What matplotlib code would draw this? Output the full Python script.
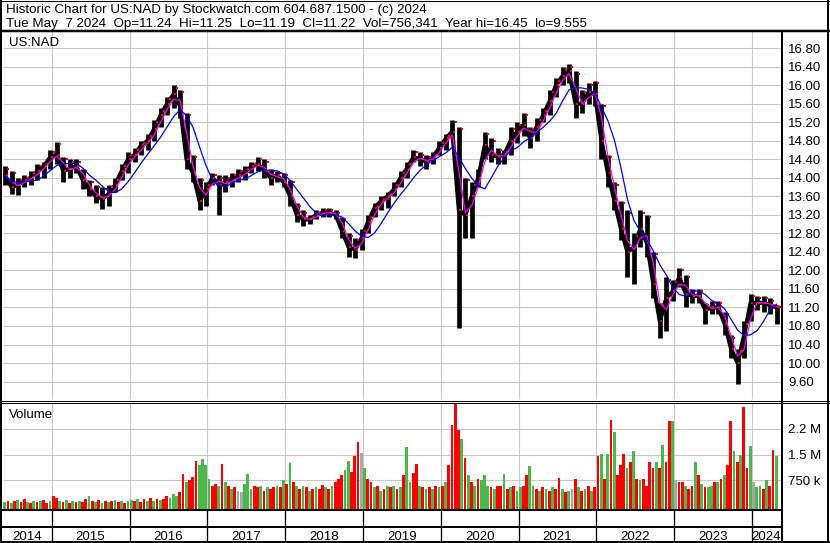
import matplotlib
matplotlib.use("Agg")
import matplotlib.pyplot as plt
import matplotlib.transforms as mtrans
from matplotlib.lines import Line2D
import numpy as np
import pandas as pd

plt.rcParams['font.family'] = ['Liberation Sans', 'DejaVu Sans']

W, H = 830, 543

# monthly price samples (US:NAD), first one mid-May 2014
t_first = 2014.40
close = [14.05, 13.8, 13.85, 13.95, 14.0, 14.15, 14.25, 14.45, 14.5, 14.15,
         14.2, 14.25, 13.95, 13.75, 13.6, 13.55, 13.65, 13.85, 14.15, 14.4,
         14.5, 14.7, 14.8, 15.05, 15.35, 15.6, 15.8, 15.55, 14.4, 14.1,
         13.5, 13.75, 14.0, 13.85, 13.9, 13.95, 14.05, 14.1, 14.25, 14.3,
         14.15, 14.0, 14.05, 13.9, 13.6, 13.2, 13.1, 13.1, 13.2, 13.25,
         13.25, 13.2, 12.85, 12.5, 12.45, 12.7, 13.05, 13.35, 13.5, 13.6,
         13.75, 14.0, 14.2, 14.45, 14.4, 14.35, 14.45, 14.65, 14.85, 15.0,
         13.3, 13.2, 13.6, 14.0, 14.7, 14.5, 14.45, 14.5, 14.8, 15.0,
         15.15, 14.85, 15.1, 15.35, 15.65, 16.0, 16.2, 16.3, 15.6, 15.6,
         15.85, 15.8, 14.8, 14.1, 13.5, 12.9, 12.4, 12.5, 12.9, 12.6,
         11.7, 10.9, 11.4, 11.55, 11.85, 11.5, 11.45, 11.45, 11.15, 11.2,
         11.2, 10.85, 10.3, 10.0, 10.6, 11.3, 11.3, 11.3, 11.25, 11.2]
lo = [13.85, 13.65, 13.62, 13.8, 13.85, 13.95, 14.0, 14.2, 14.3, 13.9,
      14.0, 14.1, 13.75, 13.6, 13.45, 13.33, 13.4, 13.7, 13.95, 14.1,
      14.35, 14.5, 14.6, 14.8, 15.1, 15.35, 15.5, 15.3, 14.2, 13.9,
      13.3, 13.4, 13.85, 13.2, 13.7, 13.8, 13.9, 13.95, 14.1, 14.15,
      14.0, 13.85, 13.9, 13.8, 13.4, 13.05, 12.95, 13.0, 13.1, 13.15,
      13.15, 13.1, 12.7, 12.3, 12.27, 12.45, 12.8, 13.15, 13.3, 13.35,
      13.6, 13.8, 14.0, 14.35, 14.25, 14.2, 14.3, 14.5, 14.6, 14.85,
      10.75, 12.7, 12.7, 13.8, 14.4, 14.35, 14.3, 14.3, 14.5, 14.75,
      14.9, 14.65, 14.8, 15.2, 15.35, 15.75, 16.0, 16.05, 15.3, 15.4,
      15.6, 15.55, 14.4, 13.8, 13.3, 12.65, 11.85, 11.7, 12.5, 12.3,
      11.4, 10.55, 10.7, 11.35, 11.65, 11.2, 11.3, 11.3, 10.85, 11.05,
      11.05, 10.6, 10.1, 9.555, 10.1, 10.9, 11.15, 11.1, 11.05, 10.85]
hi = [14.25, 14.15, 14.0, 14.05, 14.15, 14.3, 14.35, 14.6, 14.78, 14.45,
      14.4, 14.4, 14.2, 13.95, 13.85, 13.8, 13.85, 14.0, 14.3, 14.55,
      14.65, 14.8, 14.95, 15.25, 15.5, 15.75, 16.0, 15.9, 15.4, 14.5,
      14.0, 13.9, 14.1, 14.05, 14.05, 14.1, 14.2, 14.25, 14.35, 14.46,
      14.4, 14.2, 14.15, 14.1, 13.95, 13.45, 13.3, 13.2, 13.3, 13.35,
      13.35, 13.3, 13.15, 12.8, 12.7, 12.9, 13.2, 13.45, 13.6, 13.7,
      13.9, 14.15, 14.35, 14.6, 14.55, 14.5, 14.55, 14.8, 14.95, 15.25,
      15.1, 14.0, 13.9, 14.2, 15.0, 14.85, 14.65, 14.6, 15.1, 15.2,
      15.4, 15.1, 15.3, 15.5, 15.9, 16.15, 16.4, 16.45, 16.3, 15.9,
      16.05, 16.1, 15.6, 14.5, 13.9, 13.5, 13.3, 12.8, 13.3, 13.2,
      12.4, 11.3, 11.85, 11.8, 12.05, 11.9, 11.6, 11.6, 11.3, 11.35,
      11.35, 11.1, 10.6, 10.3, 10.9, 11.5, 11.45, 11.45, 11.4, 11.25]

# half-month volume (millions) and colour per bar: r = down, g = up, n = unchanged
vol14 = [0.12, 0.15, 0.1, 0.14, 0.18, 0.12, 0.2, 0.13, 0.1, 0.16, 0.12, 0.14, 0.18, 0.1, 0.15]
col14 = "grgrgrrgrgrgrrg"
vol15 = [0.3, 0.25, 0.15, 0.12, 0.18, 0.1, 0.14, 0.12, 0.16, 0.13, 0.2, 0.3,
         0.15, 0.12, 0.18, 0.1, 0.14, 0.12, 0.15, 0.18, 0.12, 0.15, 0.1, 0.14]
col15 = "rrgrgrgrgrrgrgrgrgrgrgrg"
vol16 = [0.18, 0.15, 0.22, 0.12, 0.2, 0.16, 0.25, 0.15, 0.2, 0.18, 0.22, 0.3,
         0.25, 0.35, 0.3, 0.4, 0.94, 0.7, 0.77, 0.85, 1.32, 1.2, 1.37, 1.2]
col16 = "grgrrgrgrgrrgggrrgrrrggg"
vol17 = [0.8, 0.6, 0.65, 0.6, 1.23, 0.7, 0.6, 0.5, 0.55, 0.45, 0.4, 0.65,
         0.94, 0.5, 0.6, 0.55, 0.6, 0.45, 0.55, 0.5, 0.55, 0.6, 0.55, 0.75]
col17 = "grrgrgrgrnngggrrgrgrrgrg"
vol18 = [0.65, 1.26, 0.7, 0.6, 0.5, 0.6, 0.55, 0.45, 0.5, 0.55, 0.5, 0.62,
         0.55, 0.5, 0.6, 0.7, 0.8, 0.9, 1.06, 1.32, 1.0, 1.46, 1.88, 1.55]
col18 = "rgrgrgrgrgrrgrgrrrggrrrn"
vol19 = [1.1, 0.8, 0.7, 0.55, 0.6, 0.45, 0.5, 0.6, 0.55, 0.6, 0.5, 0.55,
         0.9, 1.72, 0.7, 0.97, 1.22, 0.6, 0.55, 0.5, 0.55, 0.5, 0.6, 0.55]
col19 = "grrgrgrgrgrgrggrrgrgrgrg"
vol20 = [0.6, 0.7, 1.2, 2.36, 2.98, 2.22, 1.96, 1.4, 0.9, 0.7, 0.6, 0.8,
         0.75, 0.91, 0.6, 0.55, 0.5, 0.6, 0.6, 0.94, 0.5, 0.55, 0.6, 0.45]
col20 = "rgrrrrgrgrgrgggrgrrgrgrg"
vol21 = [0.55, 0.6, 0.9, 1.17, 0.6, 0.5, 0.45, 0.55, 0.5, 0.45, 0.55, 0.5,
         0.82, 0.5, 0.4, 0.45, 0.5, 0.8, 0.55, 0.45, 0.5, 0.6, 0.45, 0.55]
col21 = "grrggrgrgrgrrgrgnrgrgrgr"
vol22 = [1.46, 1.52, 0.8, 1.52, 2.51, 2.16, 0.9, 1.2, 1.52, 1.1, 1.3, 1.61,
         0.8, 0.75, 0.8, 0.6, 1.3, 1.1, 1.3, 1.1, 1.78, 1.3, 2.48, 2.48]
col22 = "rgrgrgrrrgrgrgrrrrgrgrrg"
vol23 = [0.75, 0.7, 0.7, 0.6, 0.5, 0.6, 1.3, 0.9, 0.65, 0.55, 0.55, 0.6,
         0.7, 0.7, 0.8, 0.9, 1.2, 2.49, 1.6, 1.3, 1.5, 2.89, 1.1, 1.76]
col23 = "nrrgrrgrgrggrgrgrrgrgrrg"
vol24 = [0.7, 0.55, 0.6, 0.5, 0.75, 0.6, 1.64, 1.46]
col24 = "nggrgrrg"

years = list(range(2014, 2025))
price_ticks = np.arange(9.6, 16.81, 0.4)
vol_ticks = [0.75, 1.5, 2.25]
vol_labels = ['750 k', '1.5 M', '2.2 M']

title1 = "Historic Chart for US:NAD by Stockwatch.com 604.687.1500 - (c) 2024"
title2 = ("Tue May  7 2024  Op=11.24  Hi=11.25  Lo=11.19  Cl=11.22  "
          "Vol=756,341  Year hi=16.45  lo=9.555")

# ---- derived series
t = t_first + np.arange(len(close)) / 12.0
cs = pd.Series(close)
ma_fast = cs.rolling(2, min_periods=1).mean()
ma_slow = cs.rolling(5, min_periods=1).mean()

vols = [vol14, vol15, vol16, vol17, vol18, vol19, vol20, vol21, vol22, vol23, vol24]
cols = [col14, col15, col16, col17, col18, col19, col20, col21, col22, col23, col24]
cmap = {'r': '#ff0000', 'g': '#4cb84c', 'n': '#a8a8a8'}
vt, vv, vc = [], [], []
for yr, v, cc in zip(years, vols, cols):
    off = 24 - len(v) if yr == 2014 else 0
    for i, (val, ch) in enumerate(zip(v, cc)):
        vt.append(yr + (off + i + 0.5) / 24)
        vv.append(val)
        vc.append(cmap[ch])
vv = np.array(vv)

# ---- figure
fig = plt.figure(figsize=(W / 100, H / 100), dpi=100)
fig.patch.set_facecolor('white')


def box(x0, y0, x1, y1):
    return [x0 / W, 1 - y1 / H, (x1 - x0) / W, (y1 - y0) / H]


xmin, xmax = 2014.374, 2024.374
grid_c = '#c8c8c8'
fs = 9.5

ax = fig.add_axes(box(3, 32, 781, 399))
# high-low bars plus a heavy line through the closes
ax.vlines(t, lo, hi, color='black', lw=3.4, zorder=3)
ax.plot(t, close, color='black', lw=3.0, zorder=3)
ax.plot(t + 0.25 / 12, close, 's', color='red', ms=2.0, mew=0, zorder=4)
ax.plot(t + 0.5 / 12, np.array(hi) - 0.05, 's', color='red', ms=1.6, mew=0, zorder=4)
ax.plot(t, ma_fast, color='#ff00ff', lw=0.9, zorder=5)
ax.plot(t, ma_slow, color='#0000ff', lw=0.9, zorder=5)
ax.set_xlim(xmin, xmax)
ax.set_ylim(9.223, 17.149)
ax.set_xticks(years[1:])
ax.set_yticks(price_ticks)
ax.set_yticklabels([f'{p:.2f}' for p in price_ticks])
ax.yaxis.tick_right()
ax.tick_params(axis='both', length=0, labelbottom=False, labelsize=fs, pad=5)
ax.grid(True, color=grid_c, lw=0.8)
ax.set_axisbelow(True)
for s in ax.spines.values():
    s.set_visible(False)

vmin = -0.08
axv = fig.add_axes(box(3, 403, 781, 509))
axv.bar(vt, vv - vmin, bottom=vmin, width=0.85 / 24, color=vc, linewidth=0, zorder=3)
axv.set_xlim(xmin, xmax)
axv.set_ylim(vmin, 3.0)
axv.set_xticks(years[1:])
axv.set_yticks(vol_ticks)
axv.set_yticklabels(vol_labels)
axv.yaxis.tick_right()
axv.tick_params(axis='both', length=0, labelbottom=False, labelsize=fs, pad=5)
axv.grid(True, color=grid_c, lw=0.8)
axv.set_axisbelow(True)
for s in axv.spines.values():
    s.set_visible(False)

# ---- frame lines in pixel coordinates
ov = fig.add_axes([0, 0, 1, 1], zorder=10)
ov.set_xlim(0, W)
ov.set_ylim(H, 0)
ov.axis('off')
px = 0.72
ov.plot([0, W], [0.5, 0.5], color='black', lw=1 * px)
ov.plot([1, 1], [0, H], color='black', lw=2 * px)
ov.plot([828, 828], [0, H], color='black', lw=2 * px)
ov.plot([0, W], [542, 542], color='black', lw=2 * px)
ov.plot([0, W], [31.2, 31.2], color='black', lw=2.5 * px)
ov.plot([781.7, 781.7], [31, H], color='black', lw=2 * px)
ov.plot([0, W], [400.5, 400.5], color='black', lw=1 * px)
ov.plot([0, W], [402.5, 402.5], color='black', lw=1 * px)
ov.plot([0, 781], [509.7, 509.7], color='black', lw=2 * px)
ov.plot([0, 781], [527, 527], color='black', lw=2 * px)

blend = mtrans.blended_transform_factory(axv.transData, ov.transData)
for yr in years[1:]:
    fig.add_artist(Line2D([yr, yr], [510, 542], transform=blend, color='black',
                          lw=1.3 * px))
for yr in years:
    a, b = max(yr, xmin), min(yr + 1, xmax)
    fig.text((a + b) / 2, 539.5, str(yr), transform=blend, ha='center',
             va='baseline', fontsize=fs)

# ---- texts
fig.text(6 / W, 1 - 13.3 / H, title1, fontsize=9.6, va='baseline')
fig.text(6 / W, 1 - 26.7 / H, title2, fontsize=9.6, va='baseline')
fig.text(9 / W, 1 - 46 / H, 'US:NAD', fontsize=fs, va='baseline')
fig.text(9 / W, 1 - 418 / H, 'Volume', fontsize=fs, va='baseline')

fig.savefig('out.png', dpi=100)
